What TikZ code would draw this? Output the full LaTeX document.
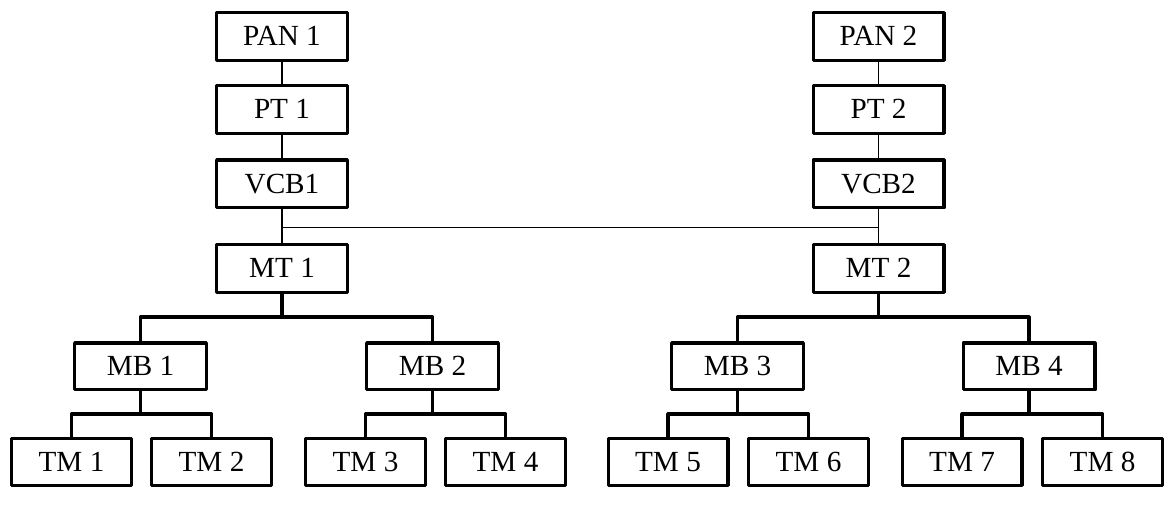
\documentclass[tikz,border=0pt]{standalone}
\usepackage{fontspec}
\setmainfont{Liberation Serif}
\begin{document}
\begin{tikzpicture}[x=0.5pt,y=-0.5pt,line join=round,font=\fontsize{14.6}{16}\selectfont,
  box/.style={draw,line width=1.7pt,inner sep=0pt,text height=0.95em,text depth=0pt,minimum width=65.3pt,minimum height=23.8pt},
  mbox/.style={box,minimum width=65.8pt,minimum height=23.3pt},
  tbox/.style={box,minimum width=59.8pt,minimum height=23.3pt},
  feed/.style={line width=0.9pt},
  bus/.style={line width=1.6pt}]
\useasboundingbox (0,0) rectangle (1173,507);
% supply side
\node[box] (pan1) at (282,36.5) {PAN 1};
\node[box] (pt1) at (282,109.5) {PT 1};
\node[box] (vcb1) at (282,184) {VCB1};
\node[box] (mt1) at (282,268.5) {MT 1};
\node[box] (pan2) at (878.5,36.5) {PAN 2};
\node[box] (pt2) at (878.5,109.5) {PT 2};
\node[box] (vcb2) at (878.5,184) {VCB2};
\node[box] (mt2) at (878.5,268.5) {MT 2};
\foreach \s in {1,2}{
  \draw[feed] (pan\s) -- (pt\s) (pt\s) -- (vcb\s) (vcb\s) -- (mt\s);}
\coordinate (tie1) at (282,227.5);
\coordinate (tie2) at (878.5,227.5);
\draw[feed] (tie1) -- (tie2);
% boards and loads
\foreach \i/\x in {1/140.5,2/432.5,3/737.5,4/1029}
  \node[mbox] (mb\i) at (\x,366.5) {MB \i};
\foreach \i/\x in {1/71.5,2/211.5,3/365.5,4/505.5,5/668,6/808.5,7/962,8/1102.5}
  \node[tbox] (tm\i) at (\x,462) {TM \i};
\coordinate (mbus) at (0,317);
\coordinate (tbus) at (0,414);
\foreach \s/\a/\b in {1/1/2,2/3/4}{
  \draw[bus] (mt\s.south) -- (mt\s.south |- mbus);
  \draw[bus] (mb\a.north) |- (mt\s.south |- mbus) -| (mb\b.north);}
\foreach \m/\a/\b in {1/1/2,2/3/4,3/5/6,4/7/8}{
  \draw[bus] (mb\m.south) -- (mb\m.south |- tbus);
  \draw[bus] (tm\a.north) |- (mb\m.south |- tbus) -| (tm\b.north);}
\end{tikzpicture}
\end{document}
